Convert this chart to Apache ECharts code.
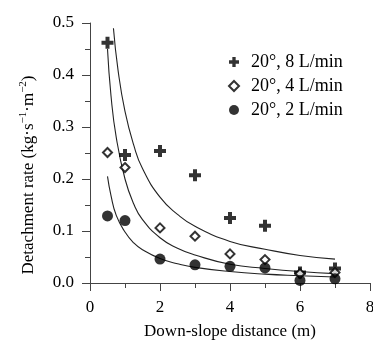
<!DOCTYPE html>
<html>
<head>
<meta charset="utf-8">
<script src="https://cdn.jsdelivr.net/npm/echarts@6/dist/echarts.min.js"></script>
<style>html,body{margin:0;padding:0;background:#fff;}#c{width:373px;height:342px;}</style>
</head>
<body>
<div id="c"></div>
<script>
// Observed data
var distances = [0.5, 1, 2, 3, 4, 5, 6, 7];
var rate8 = [0.462, 0.246, 0.254, 0.207, 0.125, 0.110, 0.020, 0.028];
var rate4 = [0.251, 0.222, 0.106, 0.090, 0.056, 0.045, 0.018, 0.020];
var rate2 = [0.129, 0.120, 0.046, 0.035, 0.032, 0.029, 0.005, 0.008];

// Fitted curves
var fit8X = [0.67, 0.8, 1, 1.25, 1.5, 2, 2.5, 3, 4, 5, 6, 7];
var fit8Y = [0.49, 0.41, 0.33, 0.265, 0.22, 0.165, 0.132, 0.109, 0.080, 0.065, 0.053, 0.046];
var fit4X = [0.5, 0.6, 0.75, 1, 1.25, 1.5, 2, 2.5, 3, 4, 5, 6, 7];
var fit4Y = [0.45, 0.36, 0.28, 0.20, 0.152, 0.122, 0.087, 0.067, 0.054, 0.036, 0.028, 0.022, 0.018];
var fit2X = [0.5, 0.6, 0.75, 1, 1.25, 1.5, 2, 2.5, 3, 4, 5, 6, 7];
var fit2Y = [0.205, 0.168, 0.13, 0.098, 0.077, 0.064, 0.047, 0.037, 0.030, 0.022, 0.017, 0.014, 0.0115];

var names = ['20°, 8 L/min', '20°, 4 L/min', '20°, 2 L/min'];
var xTicks = [0, 2, 4, 6, 8];
var yTicks = [0.0, 0.1, 0.2, 0.3, 0.4, 0.5];

function pairs(xs, ys) { return xs.map(function (x, i) { return [x, ys[i]]; }); }

var FONT = '"Liberation Serif", "Times New Roman", serif';
var plusPath = 'path://M4,0H8V4H12V8H8V12H4V8H0V4H4Z';

var chart = echarts.init(document.getElementById('c'), null, { renderer: 'canvas' });
function fitLine(xs, ys) {
  return {
    type: 'line', data: pairs(xs, ys), smooth: true, showSymbol: false, symbol: 'none',
    lineStyle: { color: '#222', width: 1.1 }, silent: true, z: 1
  };
}
chart.setOption({
  animation: false,
  backgroundColor: '#fff',
  textStyle: { fontFamily: FONT, color: '#000' },
  grid: { left: 90, right: 3, top: 23, bottom: 59, containLabel: false, outerBoundsMode: 'none' },
  legend: {
    left: 228, top: 50, padding: 0, orient: 'vertical', itemWidth: 10, itemHeight: 10, itemGap: 0,
    textStyle: { fontFamily: FONT, fontSize: 18, color: '#000', lineHeight: 24, padding: [0, 0, 0, 7] },
    data: [
      { name: names[0], icon: plusPath },
      { name: names[1], icon: 'diamond' },
      { name: names[2], icon: 'circle' }
    ]
  },
  xAxis: {
    type: 'value', min: xTicks[0], max: xTicks[xTicks.length - 1], interval: 2,
    name: 'Down-slope distance (m)', nameLocation: 'middle', nameGap: 40,
    nameTextStyle: { fontFamily: FONT, fontSize: 17, color: '#000' },
    axisLine: { show: true, onZero: false, lineStyle: { color: '#444', width: 1 } },
    axisTick: { show: true, inside: false, length: 8, lineStyle: { color: '#444' } },
    minorTick: { show: true, splitNumber: 2, length: 5, lineStyle: { color: '#444' } },
    splitLine: { show: false },
    axisLabel: { fontFamily: FONT, fontSize: 17, color: '#000', margin: 16 }
  },
  yAxis: {
    type: 'value', min: yTicks[0], max: yTicks[yTicks.length - 1], interval: 0.1,
    name: '{n|Detachment rate (kg·s}{s|−1}{n|·m}{s|−2}{n|)}', nameLocation: 'middle', nameGap: 53, nameRotate: 90,
    nameTextStyle: {
      fontFamily: FONT, fontSize: 17, color: '#000', padding: [0, 44, 0, 0],
      rich: {
        n: { fontFamily: FONT, fontSize: 17, color: '#000', lineHeight: 19, verticalAlign: 'bottom' },
        s: { fontFamily: FONT, fontSize: 11, color: '#000', lineHeight: 19, verticalAlign: 'top', padding: [0, 0, 6, 0] }
      }
    },
    axisLine: { show: true, onZero: false, lineStyle: { color: '#444', width: 1 } },
    axisTick: { show: true, inside: false, length: 8, lineStyle: { color: '#444' } },
    minorTick: { show: true, splitNumber: 2, length: 5, lineStyle: { color: '#444' } },
    splitLine: { show: false },
    axisLabel: { fontFamily: FONT, fontSize: 17, color: '#000', margin: 16, formatter: function (v) { return v.toFixed(1); } }
  },
  series: [
    fitLine(fit8X, fit8Y),
    fitLine(fit4X, fit4Y),
    fitLine(fit2X, fit2Y),
    { name: names[0], type: 'scatter', data: pairs(distances, rate8), symbol: plusPath, symbolSize: 12,
      itemStyle: { color: '#000' }, z: 3 },
    { name: names[1], type: 'scatter', data: pairs(distances, rate4), symbol: 'diamond', symbolSize: 9,
      itemStyle: { color: '#fff', borderColor: '#000', borderWidth: 2 }, z: 3 },
    { name: names[2], type: 'scatter', data: pairs(distances, rate2), symbol: 'circle', symbolSize: 11,
      itemStyle: { color: '#000' }, z: 4 }
  ]
});
</script>
</body>
</html>
